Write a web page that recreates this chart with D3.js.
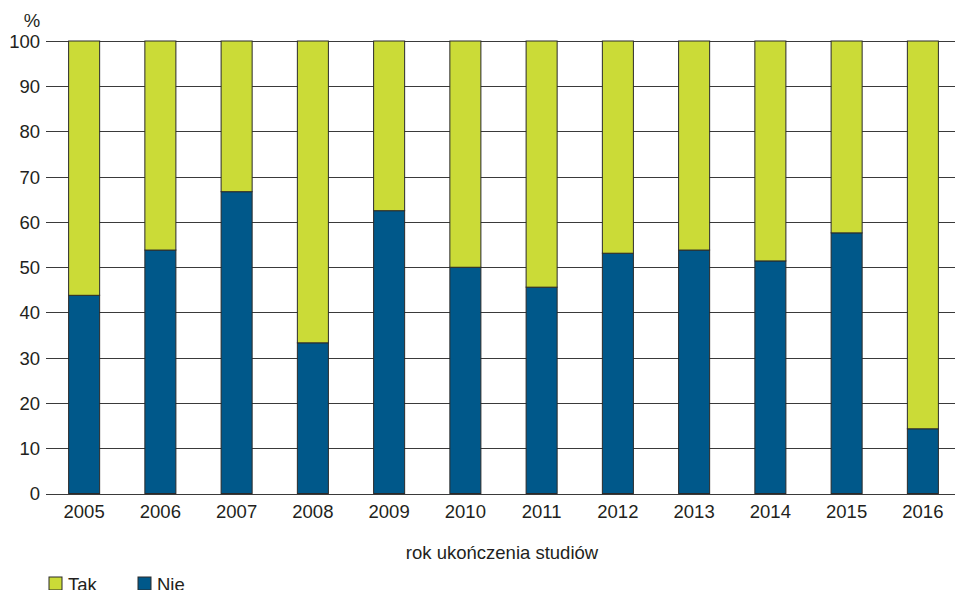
<!DOCTYPE html>
<html><head><meta charset="utf-8">
<script src="https://cdn.jsdelivr.net/npm/d3@7"></script>
<style>body{margin:0;background:#fff}svg{display:block}text{font-family:"Liberation Sans",Arial,sans-serif;fill:#231f20}</style>
</head><body><svg id="c" width="955" height="590"></svg>
<script>
const years = ["2005","2006","2007","2008","2009","2010","2011","2012","2013","2014","2015","2016"];
const nie = [43.8,53.8,66.7,33.3,62.5,50.0,45.6,53.1,53.8,51.4,57.6,14.3];
const tak = nie.map(v => 100 - v);
const yTicks = [0,10,20,30,40,50,60,70,80,90,100];
const seriesNames = ["Tak","Nie"];
const colors = {Tak:"#cbdb37", Nie:"#00588a"};
const FS = 18.5;

const svg = d3.select("#c");
const x = d3.scaleBand().domain(years).range([46,961]).paddingInner(0.593).paddingOuter(0.2965);
const y = d3.scaleLinear().domain([0,100]).range([493.5,41]);

// gridlines
svg.append("g").selectAll("line").data(yTicks).join("line")
  .attr("x1",46).attr("x2",955)
  .attr("y1",d=>Math.round(y(d))+0.5).attr("y2",d=>Math.round(y(d))+0.5)
  .attr("stroke","#3a3a3a").attr("stroke-width",1.2);

// y labels
const yAxis = d3.axisLeft(y).tickValues(yTicks).tickSize(0).tickPadding(6);
const ga = svg.append("g").attr("transform","translate(46,0)").call(yAxis);
ga.select(".domain").remove();
ga.selectAll("text").attr("font-size",FS).attr("fill","#231f20").attr("font-family","Liberation Sans, Arial, sans-serif").attr("dy","0.35em");

svg.append("text").attr("x",32).attr("y",27).attr("text-anchor","middle").attr("font-size",FS).text("%");

// bars
const data = years.map((yr,i)=>({year:yr, Nie:nie[i], Tak:tak[i]}));
const stack = d3.stack().keys(["Nie","Tak"])(data);
svg.append("g").selectAll("g").data(stack).join("g")
  .attr("fill",d=>colors[d.key])
  .selectAll("rect").data(d=>d).join("rect")
  .attr("x",d=>x(d.data.year)).attr("width",x.bandwidth())
  .attr("y",d=>y(d[1])).attr("height",d=>y(d[0])-y(d[1]))
  .attr("stroke","#2a2a2a").attr("stroke-width",1);

// x labels
const xAxis = d3.axisBottom(x).tickSize(0).tickPadding(11);
const gx = svg.append("g").attr("transform","translate(0,493.5)").call(xAxis);
gx.select(".domain").remove();
gx.selectAll("text").attr("font-size",FS).attr("fill","#231f20").attr("font-family","Liberation Sans, Arial, sans-serif");

svg.append("text").attr("x",502).attr("y",559).attr("text-anchor","middle").attr("font-size",FS).text("rok ukończenia studiów");

// legend
const leg = svg.append("g").selectAll("g").data(seriesNames).join("g")
  .attr("transform",(d,i)=>`translate(49,577)`).attr("transform",(d,i)=>`translate(${49+i*89},577)`);
leg.append("rect").attr("width",13).attr("height",13).attr("fill",d=>colors[d]).attr("stroke","#2a2a2a").attr("stroke-width",1);
leg.append("text").attr("x",19).attr("y",14).attr("font-size",FS).text(d=>d);
</script></body></html>
